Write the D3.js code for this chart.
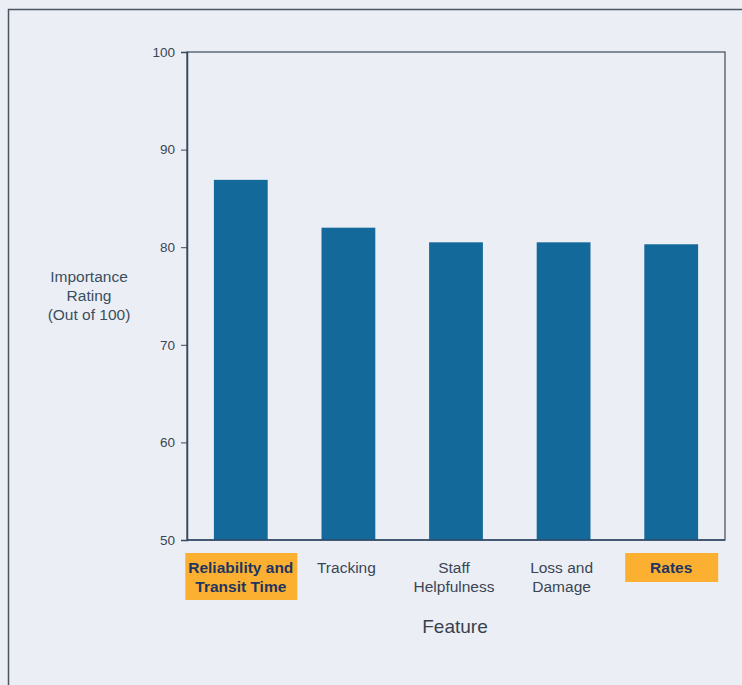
<!DOCTYPE html>
<html>
<head>
<meta charset="utf-8">
<script src="https://cdn.jsdelivr.net/npm/d3@7"></script>
<style>
  html, body { margin: 0; padding: 0; background: #eceef6; }
  svg { display: block; }
  text { font-family: "Liberation Sans", Arial, sans-serif; }
</style>
</head>
<body>
<svg id="chart" width="742" height="685"></svg>
<script>
// Feature importance ratings (out of 100)
const categories = [
  ["Reliability and", "Transit Time"],
  ["Tracking"],
  ["Staff", "Helpfulness"],
  ["Loss and", "Damage"],
  ["Rates"]
];
const ratings = [86.9, 82.0, 80.5, 80.5, 80.3];
const highlighted = [true, false, false, false, true];
const yTicks = [50, 60, 70, 80, 90, 100];

const svg = d3.select("#chart");
const W = 742, H = 685;
const m = { left: 187, right: 725, top: 52, bottom: 540 };

// Outer frame (left and top edges visible)
svg.append("path")
  .attr("d", `M8.5,${H} L8.5,9.5 L${W},9.5`)
  .attr("fill", "none")
  .attr("stroke", "#4a5560")
  .attr("stroke-width", 1.5);

const x = d3.scaleBand()
  .domain(d3.range(categories.length))
  .range([m.left, m.right])
  .paddingInner(0.5)
  .paddingOuter(0.25);

const y = d3.scaleLinear().domain([50, 100]).range([m.bottom, m.top]);

// Plot box
svg.append("rect")
  .attr("x", m.left).attr("y", m.top)
  .attr("width", m.right - m.left).attr("height", m.bottom - m.top)
  .attr("fill", "none")
  .attr("stroke", "#3c4a58")
  .attr("stroke-width", 1.2);

// Bars
svg.append("g").selectAll("rect")
  .data(ratings)
  .join("rect")
  .attr("x", (d, i) => x(i))
  .attr("y", d => y(d))
  .attr("width", x.bandwidth())
  .attr("height", d => y(50) - y(d))
  .attr("fill", "#13699a");

// Y axis
const yAxis = d3.axisLeft(y).tickValues(yTicks).tickSize(6).tickPadding(6).tickFormat(d3.format("d"));
const gy = svg.append("g").attr("transform", `translate(${m.left},0)`).call(yAxis);
gy.select(".domain").attr("stroke", "#2f4a68").attr("stroke-width", 1.5);
gy.selectAll(".tick line").attr("stroke", "#3c4a58");
gy.selectAll(".tick text")
  .attr("fill", "#3a4654")
  .attr("font-size", 13.5)
  .attr("font-family", "'Liberation Sans', Arial, sans-serif");

// Bottom axis line
svg.append("line")
  .attr("x1", m.left).attr("x2", m.right)
  .attr("y1", m.bottom).attr("y2", m.bottom)
  .attr("stroke", "#2f4a68").attr("stroke-width", 1.5);

// Category labels
const labelG = svg.append("g");
categories.forEach((lines, i) => {
  const cx = x(i) + x.bandwidth() / 2;
  const hl = highlighted[i];
  if (hl) {
    const boxW = lines.length > 1 ? 112 : 93;
    const boxH = lines.length > 1 ? 47 : 29;
    labelG.append("rect")
      .attr("x", cx - boxW / 2 + 0.5)
      .attr("y", 553)
      .attr("width", boxW)
      .attr("height", boxH)
      .attr("fill", "#fbb031");
  }
  lines.forEach((t, j) => {
    labelG.append("text")
      .attr("x", cx + (hl ? 0 : -2))
      .attr("y", 573 + j * 19)
      .attr("text-anchor", "middle")
      .attr("font-size", 15.5)
      .attr("font-weight", hl ? "bold" : "normal")
      .attr("fill", hl ? "#1f3560" : "#3a4654")
      .text(t);
  });
});

// Axis titles
const yTitle = ["Importance", "Rating", "(Out of 100)"];
yTitle.forEach((t, j) => {
  svg.append("text")
    .attr("x", 89)
    .attr("y", 282 + j * 19)
    .attr("text-anchor", "middle")
    .attr("font-size", 15.5)
    .attr("fill", "#3a4f5c")
    .text(t);
});

svg.append("text")
  .attr("x", 455)
  .attr("y", 633)
  .attr("text-anchor", "middle")
  .attr("font-size", 19)
  .attr("fill", "#37424e")
  .text("Feature");
</script>
</body>
</html>
